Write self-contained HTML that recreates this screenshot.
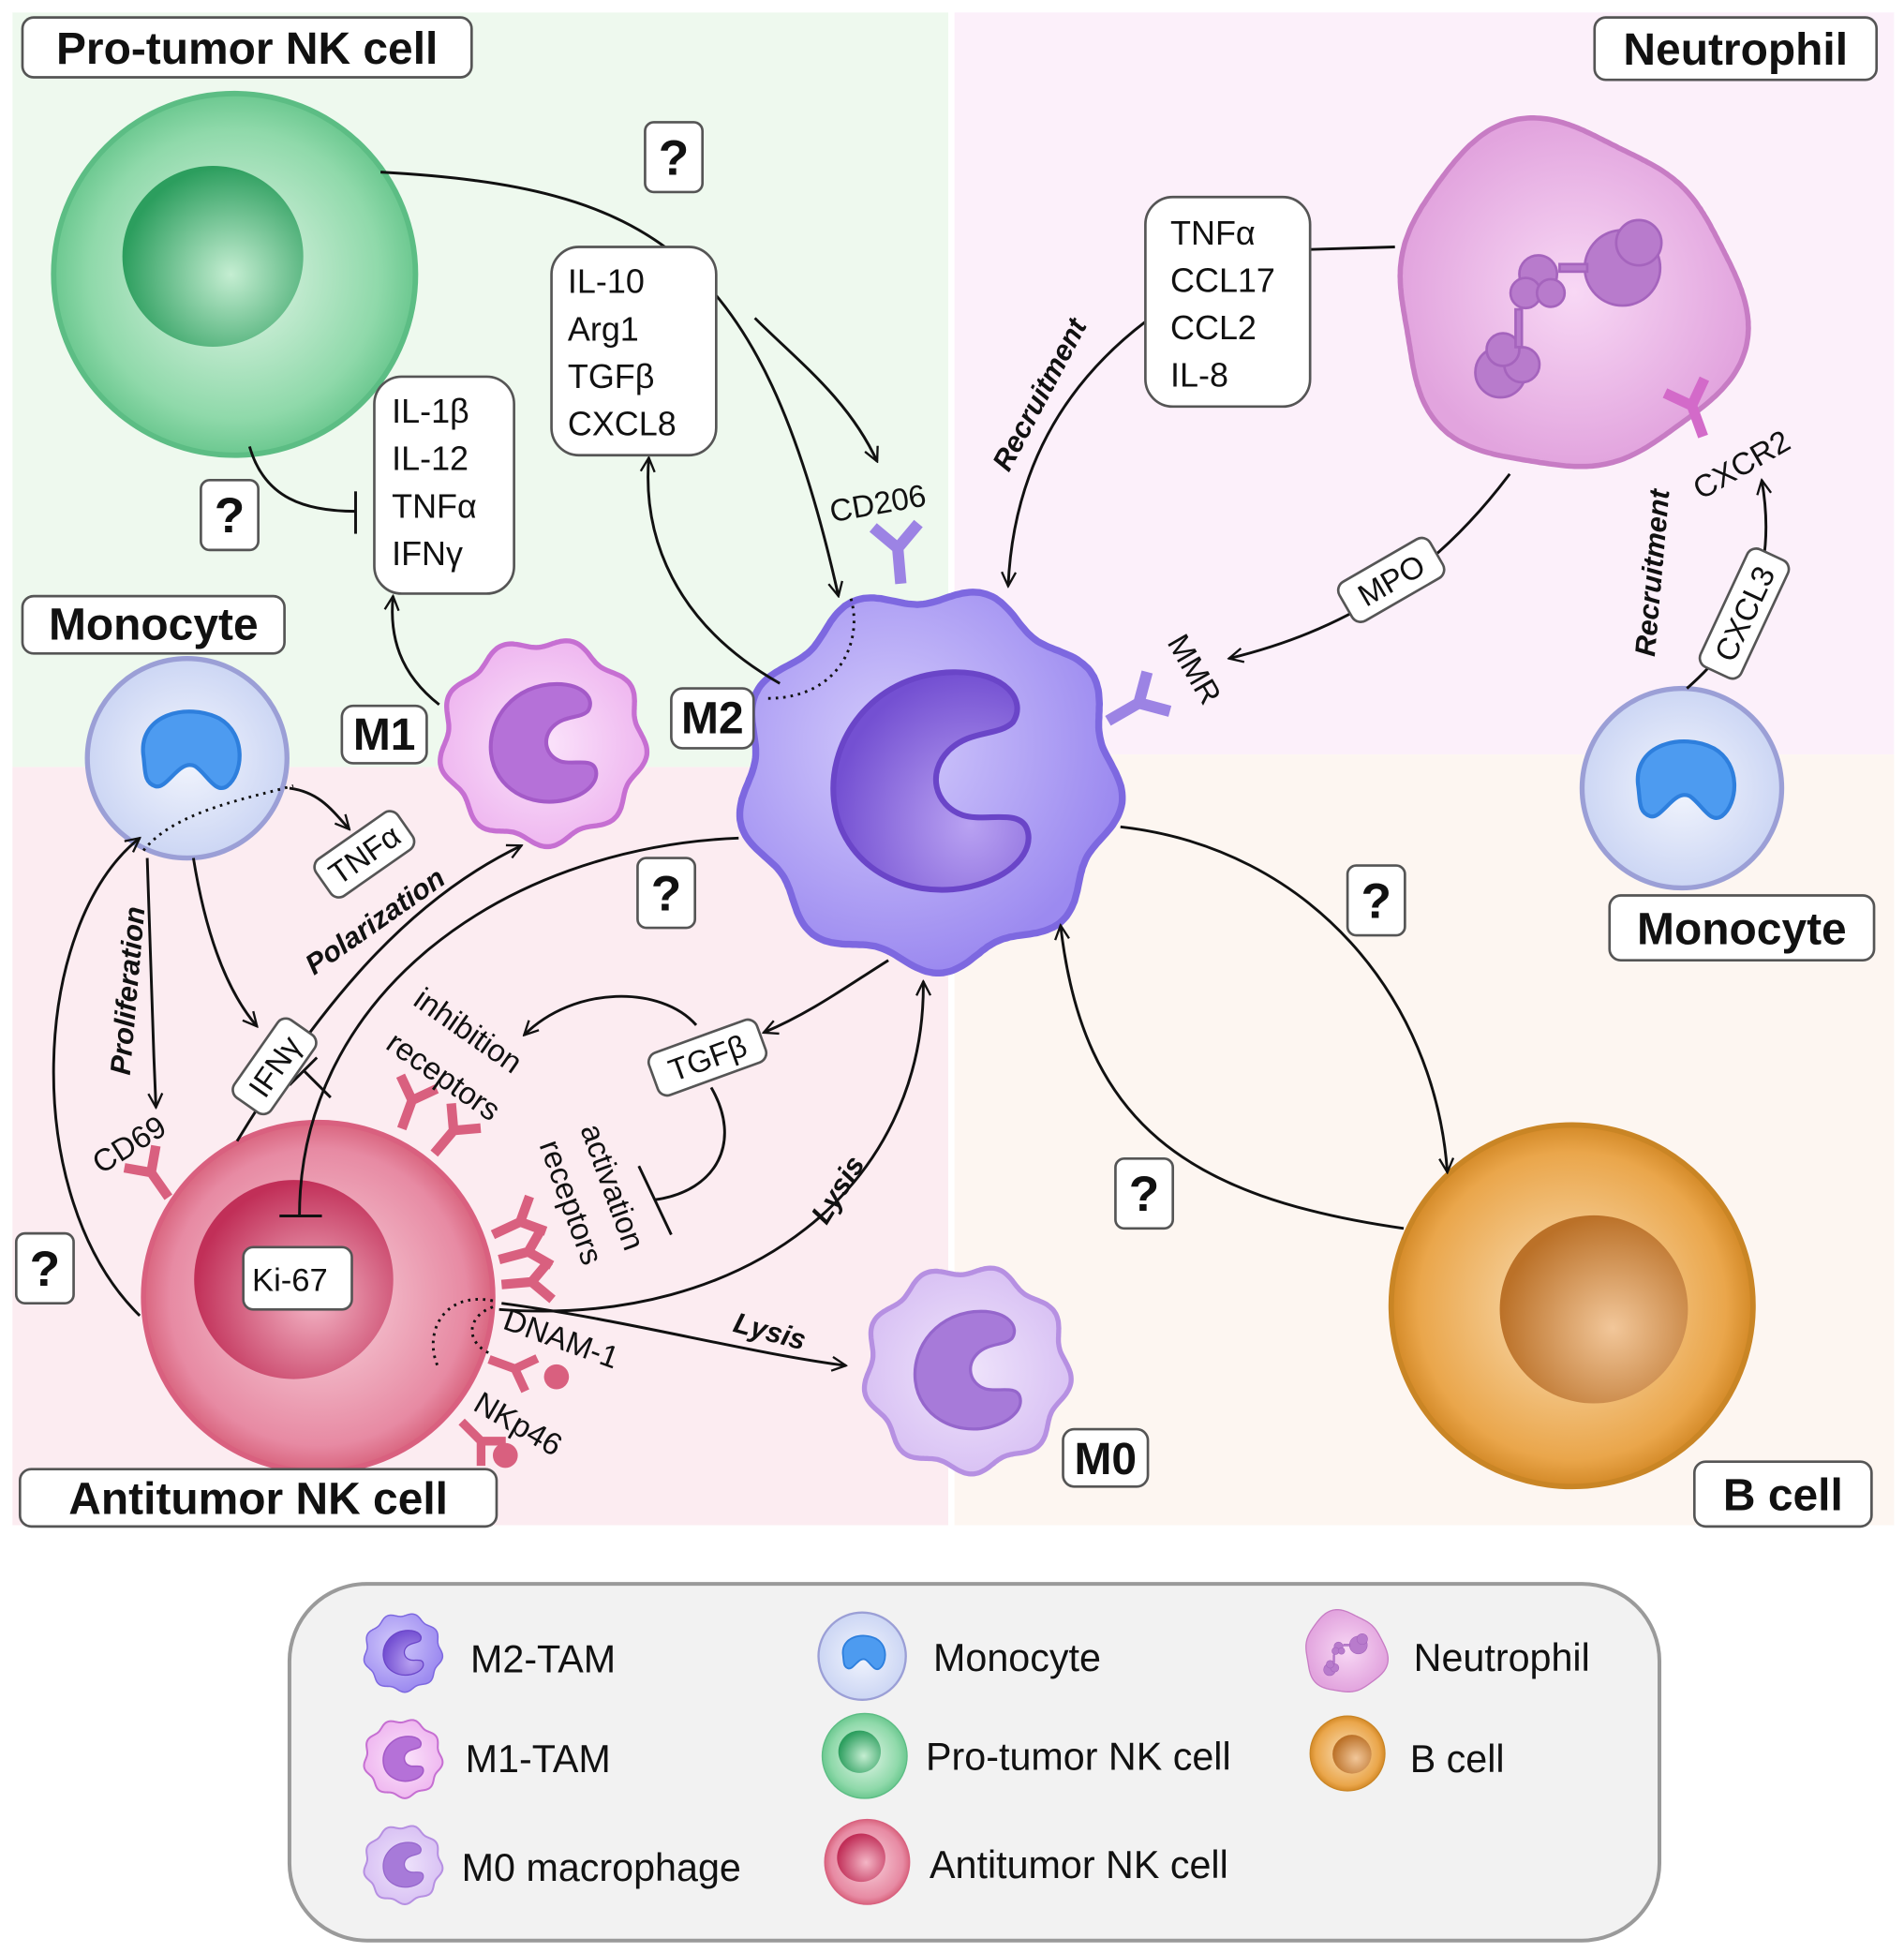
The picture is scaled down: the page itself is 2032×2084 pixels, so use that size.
<!DOCTYPE html>
<html><head><meta charset="utf-8"><style>
html,body{margin:0;padding:0;background:#fff}
svg{display:block}
text{font-family:"Liberation Sans",sans-serif;fill:#111}
.box{fill:#fff;stroke:#555;stroke-width:2}
.ln{fill:none;stroke:#111;stroke-width:2.2}
.dot{fill:none;stroke:#111;stroke-width:2.2;stroke-dasharray:2 4}
</style></head><body>
<svg id="s" width="2032" height="2084" viewBox="0 0 1526 1566" preserveAspectRatio="none" xmlns="http://www.w3.org/2000/svg">
<defs>
<marker id="ar" viewBox="0 0 20 20" refX="18" refY="10" markerWidth="14" markerHeight="14" markerUnits="userSpaceOnUse" orient="auto"><path d="M2,2 L18,10 L2,18" fill="none" stroke="#111" stroke-width="2.5"/></marker>
<radialGradient id="gG" cx="0.5" cy="0.5" r="0.5"><stop offset="0" stop-color="#e6f7ea"/><stop offset="0.8" stop-color="#8fd9aa"/><stop offset="1" stop-color="#6cc890"/></radialGradient>
<radialGradient id="gGi" cx="0.6" cy="0.6" r="0.6"><stop offset="0" stop-color="#c5eed2"/><stop offset="1" stop-color="#2c9e5e"/></radialGradient>
<radialGradient id="gR" cx="0.5" cy="0.5" r="0.5"><stop offset="0" stop-color="#f9d6df"/><stop offset="0.85" stop-color="#e78aa3"/><stop offset="1" stop-color="#d9657f"/></radialGradient>
<radialGradient id="gRi" cx="0.6" cy="0.6" r="0.6"><stop offset="0" stop-color="#f4b6c6"/><stop offset="1" stop-color="#c12f58"/></radialGradient>
<radialGradient id="gO" cx="0.5" cy="0.5" r="0.5"><stop offset="0" stop-color="#fbe2bd"/><stop offset="0.85" stop-color="#eaa64b"/><stop offset="1" stop-color="#d48a28"/></radialGradient>
<radialGradient id="gOi" cx="0.6" cy="0.6" r="0.6"><stop offset="0" stop-color="#f2c79a"/><stop offset="1" stop-color="#bb7128"/></radialGradient>
<radialGradient id="gP" cx="0.4" cy="0.4" r="0.6"><stop offset="0" stop-color="#d3cbfc"/><stop offset="1" stop-color="#9c8af0"/></radialGradient>
<radialGradient id="gPn" cx="0.7" cy="0.7" r="0.7"><stop offset="0" stop-color="#b9a2f2"/><stop offset="1" stop-color="#7450d2"/></radialGradient>
<radialGradient id="gM1" cx="0.5" cy="0.5" r="0.5"><stop offset="0" stop-color="#fbe4fb"/><stop offset="1" stop-color="#efb8f0"/></radialGradient>
<radialGradient id="gM0" cx="0.5" cy="0.5" r="0.5"><stop offset="0" stop-color="#efe4fb"/><stop offset="1" stop-color="#d9c2f4"/></radialGradient>
<radialGradient id="gMo" cx="0.5" cy="0.5" r="0.5"><stop offset="0" stop-color="#f2f5fd"/><stop offset="1" stop-color="#ccd6f4"/></radialGradient>
<radialGradient id="gN" cx="0.5" cy="0.5" r="0.5"><stop offset="0" stop-color="#f8d8f5"/><stop offset="1" stop-color="#e2a4de"/></radialGradient>
<path id="nuc" d="M15,-75 C-40,-75 -75,-30 -70,15 C-65,60 -20,85 25,75 C55,68 70,50 65,35 C60,20 35,30 20,25 C0,18 -5,-5 10,-20 C25,-35 45,-30 55,-40 C65,-55 50,-75 15,-75Z"/>

<g id="cNKp"><circle r="100" fill="url(#gG)" stroke="#5cbd84" stroke-width="3"/><circle cx="-12" cy="-10" r="50" fill="url(#gGi)"/></g>
<g id="cNKa"><circle r="100" fill="url(#gR)" stroke="#d9607f" stroke-width="3"/><circle cx="-14" cy="-10" r="57" fill="url(#gRi)"/></g>
<g id="cB"><circle r="100" fill="url(#gO)" stroke="#c98525" stroke-width="3"/><circle cx="12" cy="2" r="52" fill="url(#gOi)"/></g>
<g id="cMo"><circle r="100" fill="url(#gMo)" stroke="#9b9fd6" stroke-width="5"/>
 <path transform="scale(0.8)" d="M-55,-5 C-60,-55 0,-70 40,-50 C75,-30 70,20 50,35 C35,45 25,20 10,10 C-10,0 -25,40 -40,35 C-55,30 -52,15 -55,-5Z" fill="#4d9bf0" stroke="#2e7fdd" stroke-width="5"/></g>
<g id="cM2"><path class="blob" d="" fill="url(#gP)" stroke="#7d68e0" stroke-width="3"/>
 <use href="#nuc" transform="translate(2,0) scale(0.62)" fill="url(#gPn)" stroke="#6a45c8" stroke-width="4"/></g>
<g id="cM1"><path class="blob" d="" fill="url(#gM1)" stroke="#c66fd2" stroke-width="4"/>
 <use href="#nuc" transform="translate(2,0) scale(0.62)" fill="#b571d8" stroke="#a45ac8" stroke-width="5"/></g>
<g id="cM0"><path class="blob" d="" fill="url(#gM0)" stroke="#b690e2" stroke-width="4"/>
 <use href="#nuc" transform="translate(2,0) scale(0.62)" fill="#a77ad9" stroke="#9566cc" stroke-width="4"/></g>
<g id="cN"><path class="blobn" d="" fill="url(#gN)" stroke="#c77cc4" stroke-width="3"/>
 <g fill="#b87bcc" stroke="#a564bd" stroke-width="2" transform="scale(0.72)">
 <circle cx="45" cy="-25" r="30"/><circle cx="58" cy="-45" r="18"/><circle cx="-22" cy="-20" r="15"/><circle cx="-32" cy="-5" r="12"/><circle cx="-12" cy="-5" r="11"/>
 <circle cx="-52" cy="58" r="20"/><circle cx="-35" cy="52" r="14"/><circle cx="-50" cy="40" r="13"/>
 <rect x="-5" y="-28" width="22" height="6"/><rect x="-40" y="8" width="5" height="30"/></g></g>
<g id="Y"><path d="M0,0 L0,-22 M0,-22 L-14,-36 M0,-22 L14,-36" fill="none" stroke-width="7" stroke-linecap="butt"/></g>
</defs>

<rect x="10" y="10" width="750" height="605" fill="#eef9ee"/>
<rect x="765" y="10" width="753" height="595" fill="#fcf0fa"/>
<rect x="10" y="615" width="750" height="608" fill="#fcecf1"/>
<rect x="765" y="605" width="753" height="618" fill="#fdf6f1"/>

<use href="#cNKp" transform="translate(188,220) scale(1.45)"/>
<use href="#cN" transform="translate(1255,240) scale(1.4)"/>
<use href="#cMo" transform="translate(150,608) scale(0.8)"/>
<use href="#cMo" transform="translate(1348,632) scale(0.8)"/>
<use href="#cNKa" transform="translate(255,1040) scale(1.4)"/>
<use href="#cB" transform="translate(1260,1047) scale(1.45)"/>
<use href="#cM1" transform="translate(435,595) scale(1.0)"/>
<use href="#cM0" transform="translate(775,1098) scale(1.0)"/>
<use href="#cM2" transform="translate(745,625) scale(1.85)"/>

<g stroke="#9c83e4"><use href="#Y" transform="translate(722,468) rotate(-5) scale(1.3)"/><use href="#Y" transform="translate(888,578) rotate(60) scale(1.3)"/></g>
<g stroke="#d36ac9"><use href="#Y" transform="translate(1365,350) rotate(-20) scale(1.2)"/></g>
<g stroke="#d9607f">
<use href="#Y" transform="translate(135,960) rotate(-35) scale(1.1)"/>
<use href="#Y" transform="translate(322,905) rotate(20) scale(1.1)"/>
<use href="#Y" transform="translate(348,925) rotate(40) scale(1.1)"/>
<use href="#Y" transform="translate(395,990) rotate(65) scale(1.1)"/>
<use href="#Y" transform="translate(400,1010) rotate(75) scale(1.1)"/>
<use href="#Y" transform="translate(402,1030) rotate(85) scale(1.1)"/>
<use href="#Y" transform="translate(392,1090) rotate(110) scale(1.0)"/>
<use href="#Y" transform="translate(370,1140) rotate(135) scale(1.0)"/>
</g>
<circle cx="446" cy="1104" r="10" fill="#d9607f"/><circle cx="405" cy="1167" r="10" fill="#d9607f"/>

<path class="ln" d="M305,138 C520,150 610,200 672,478" marker-end="url(#ar)"/>
<path class="ln" d="M605,255 C640,290 680,320 703,370" marker-end="url(#ar)"/>
<path class="ln" d="M625,548 C540,500 515,430 520,367" marker-end="url(#ar)"/>
<path class="ln" d="M200,358 C212,400 245,410 285,410"/><path class="ln" d="M285,394 L285,428"/>
<path class="ln" d="M352,565 C320,540 312,510 315,478" marker-end="url(#ar)"/>
<path class="ln" d="M1050,200 L1118,198"/>
<path class="ln" d="M918,258 C850,310 812,380 808,470" marker-end="url(#ar)"/>
<path class="ln" d="M1210,380 C1150,460 1080,505 985,528" marker-end="url(#ar)"/>
<path class="ln" d="M1352,552 C1400,510 1425,460 1412,385" marker-end="url(#ar)"/>
<path class="ln" d="M232,632 C255,635 265,648 280,665" marker-end="url(#ar)"/>
<path class="ln" d="M118,688 C120,750 122,820 125,888" marker-end="url(#ar)"/>
<path class="ln" d="M155,688 C165,750 182,795 206,823" marker-end="url(#ar)"/>
<path class="ln" d="M112,1055 C15,960 25,740 112,672" marker-end="url(#ar)"/>
<path class="ln" d="M190,915 C260,800 330,720 418,678" marker-end="url(#ar)"/>
<path class="ln" d="M243,858 L265,880 M254,848 L232,870"/>
<path class="ln" d="M592,672 C400,680 240,800 240,975"/><path class="ln" d="M224,975 L258,975"/>
<path class="ln" d="M712,770 C680,790 650,812 612,828" marker-end="url(#ar)"/>
<path class="ln" d="M558,822 C530,790 460,790 420,830" marker-end="url(#ar)"/>
<path class="ln" d="M570,872 C595,915 575,955 525,962"/><path class="ln" d="M512,935 L538,990"/>
<path class="ln" d="M400,1050 C600,1065 742,950 740,787" marker-end="url(#ar)"/>
<path class="ln" d="M402,1045 C500,1058 600,1085 678,1095" marker-end="url(#ar)"/>
<path class="ln" d="M898,663 C1050,680 1150,800 1160,940" marker-end="url(#ar)"/>
<path class="ln" d="M1125,985 C950,960 868,900 850,742" marker-end="url(#ar)"/>
<path class="dot" d="M682,480 C692,515 672,560 615,560"/>
<path class="dot" d="M115,682 C140,650 200,640 235,630"/>
<path class="dot" d="M395,1043 C355,1035 338,1070 352,1098"/>
<path class="dot" d="M395,1048 C375,1055 372,1075 392,1085"/>

<rect class="box" x="442" y="198" width="132" height="167" rx="22"/>
<g font-size="27"><text x="455" y="235">IL-10</text><text x="455" y="273">Arg1</text><text x="455" y="311">TGFβ</text><text x="455" y="349">CXCL8</text></g>
<rect class="box" x="300" y="302" width="112" height="174" rx="22"/>
<g font-size="27"><text x="314" y="339">IL-1β</text><text x="314" y="377">IL-12</text><text x="314" y="415">TNFα</text><text x="314" y="453">IFNγ</text></g>
<rect class="box" x="918" y="158" width="132" height="168" rx="22"/>
<g font-size="27"><text x="938" y="196">TNFα</text><text x="938" y="234">CCL17</text><text x="938" y="272">CCL2</text><text x="938" y="310">IL-8</text></g>
<rect class="box" x="195" y="1000" width="87" height="50" rx="8"/><text x="202" y="1035" font-size="26">Ki-67</text>

<g transform="translate(292,685) rotate(-35)"><rect class="box" x="-40" y="-18" width="80" height="36" rx="8"/><text x="0" y="9" font-size="25" text-anchor="middle">TNFα</text></g>
<g transform="translate(220,855) rotate(-55)"><rect class="box" x="-38" y="-18" width="76" height="36" rx="8"/><text x="0" y="9" font-size="25" text-anchor="middle">IFNγ</text></g>
<g transform="translate(567,848) rotate(-20)"><rect class="box" x="-46" y="-18" width="92" height="36" rx="8"/><text x="0" y="9" font-size="25" text-anchor="middle">TGFβ</text></g>
<g transform="translate(1115,465) rotate(-30)"><rect class="box" x="-42" y="-18" width="84" height="36" rx="8"/><text x="0" y="9" font-size="25" text-anchor="middle">MPO</text></g>
<g transform="translate(1398,492) rotate(-65)"><rect class="box" x="-52" y="-18" width="104" height="36" rx="8"/><text x="0" y="9" font-size="25" text-anchor="middle">CXCL3</text></g>

<g font-size="25">
<text transform="translate(705,412) rotate(-10)" text-anchor="middle">CD206</text>
<text transform="translate(935,515) rotate(60)">MMR</text>
<text transform="translate(1400,380) rotate(-30)" text-anchor="middle">CXCR2</text>
<text transform="translate(108,925) rotate(-32)" text-anchor="middle">CD69</text>
<text transform="translate(330,805) rotate(35)">inhibition</text>
<text transform="translate(308,840) rotate(35)">receptors</text>
<text transform="translate(465,905) rotate(70)">activation</text>
<text transform="translate(432,918) rotate(70)">receptors</text>
<text transform="translate(402,1065) rotate(20)">DNAM-1</text>
<text transform="translate(378,1130) rotate(30)">NKp46</text>
</g>
<g font-size="23" font-weight="bold" font-style="italic">
<text transform="translate(840,320) rotate(-62)" text-anchor="middle">Recruitment</text>
<text transform="translate(1332,460) rotate(-85)" text-anchor="middle">Recruitment</text>
<text transform="translate(110,795) rotate(-85)" text-anchor="middle">Proliferation</text>
<text transform="translate(305,745) rotate(-35)" text-anchor="middle">Polarization</text>
<text transform="translate(678,958) rotate(-58)" text-anchor="middle">Lysis</text>
<text transform="translate(615,1075) rotate(15)" text-anchor="middle">Lysis</text>
</g>

<g font-size="40" font-weight="bold" text-anchor="middle">
<rect class="box" x="517" y="98" width="46" height="56" rx="7"/><text x="540" y="140">?</text>
<rect class="box" x="161" y="385" width="46" height="56" rx="7"/><text x="184" y="427">?</text>
<rect class="box" x="511" y="688" width="46" height="56" rx="7"/><text x="534" y="730">?</text>
<rect class="box" x="1080" y="694" width="46" height="56" rx="7"/><text x="1103" y="736">?</text>
<rect class="box" x="894" y="929" width="46" height="56" rx="7"/><text x="917" y="971">?</text>
<rect class="box" x="13" y="989" width="46" height="56" rx="7"/><text x="36" y="1031">?</text>
</g>

<g font-size="36" font-weight="bold">
<rect class="box" x="18" y="14" width="360" height="48" rx="9"/><text x="198" y="51" text-anchor="middle">Pro-tumor NK cell</text>
<rect class="box" x="1278" y="14" width="226" height="50" rx="9"/><text x="1391" y="52" text-anchor="middle">Neutrophil</text>
<rect class="box" x="18" y="478" width="210" height="46" rx="9"/><text x="123" y="513" text-anchor="middle">Monocyte</text>
<rect class="box" x="274" y="566" width="68" height="46" rx="9"/><text x="308" y="601" text-anchor="middle">M1</text>
<rect class="box" x="538" y="552" width="66" height="48" rx="9"/><text x="571" y="588" text-anchor="middle">M2</text>
<rect class="box" x="1290" y="718" width="212" height="52" rx="9"/><text x="1396" y="757" text-anchor="middle">Monocyte</text>
<rect class="box" x="16" y="1178" width="382" height="46" rx="9"/><text x="207" y="1214" text-anchor="middle">Antitumor NK cell</text>
<rect class="box" x="852" y="1146" width="68" height="46" rx="9"/><text x="886" y="1182" text-anchor="middle">M0</text>
<rect class="box" x="1358" y="1172" width="142" height="52" rx="9"/><text x="1429" y="1211" text-anchor="middle">B cell</text>
</g>

<rect x="232" y="1270" width="1098" height="286" rx="62" fill="#f2f2f2" stroke="#9a9a9a" stroke-width="3"/>
<use href="#cM2" transform="translate(323,1325) scale(0.38)"/>
<use href="#cM1" transform="translate(323,1410) scale(0.38)"/>
<use href="#cM0" transform="translate(323,1495) scale(0.38)"/>
<use href="#cMo" transform="translate(691,1328) scale(0.35)"/>
<use href="#cNKp" transform="translate(693,1408) scale(0.34)"/>
<use href="#cNKa" transform="translate(695,1493) scale(0.34)"/>
<use href="#cN" transform="translate(1078,1325) scale(0.33)"/>
<use href="#cB" transform="translate(1080,1406) scale(0.3)"/>
<g font-size="31">
<text x="377" y="1341">M2-TAM</text><text x="373" y="1421">M1-TAM</text><text x="370" y="1508">M0 macrophage</text>
<text x="748" y="1340">Monocyte</text><text x="742" y="1419">Pro-tumor NK cell</text><text x="745" y="1506">Antitumor NK cell</text>
<text x="1133" y="1340">Neutrophil</text><text x="1130" y="1421">B cell</text>
</g>
</svg>
<script>
function blob(R,n,a,ph,extra){var d="";for(var i=0;i<=360;i++){var t=i/360*2*Math.PI;var r=R*(1+a*Math.sin(n*t+ph)+(extra?0.05*Math.sin(3*t+1)+0.03*Math.sin(2*t):0));var x=r*Math.cos(t),y=r*Math.sin(t);d+=(i?"L":"M")+x.toFixed(1)+","+y.toFixed(1);}return d+"Z";}
document.querySelectorAll(".blob").forEach(function(p){p.setAttribute("d",blob(80,9,0.05,0.5,false));});
document.querySelectorAll(".blobn").forEach(function(p){p.setAttribute("d",blob(98,6,0.025,0,true));});
</script>
</body></html>
